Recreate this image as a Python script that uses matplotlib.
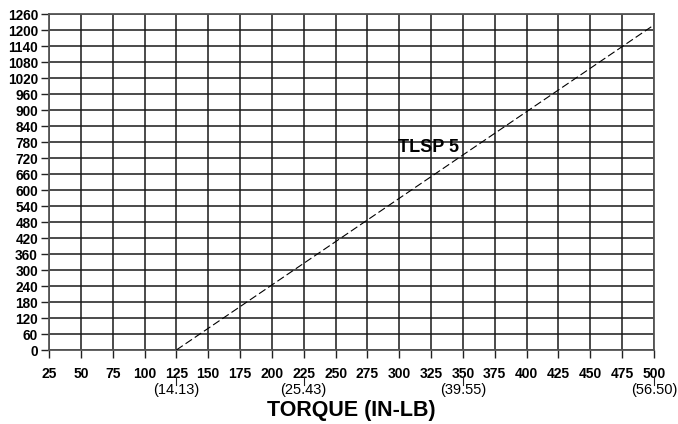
import matplotlib
matplotlib.use('Agg')
import matplotlib.pyplot as plt
import numpy as np

# data
torque_ticks = list(range(25, 501, 25))
rpm_ticks = list(range(0, 1261, 60))
nm_labels = ["(14.13)", "(25.43)", "(39.55)", "(56.50)"]
nm_pos = [125, 225, 350, 500]
line_torque = [125, 500]
line_rpm = [0, 1219]

plt.rcParams['font.family'] = ['Liberation Sans', 'DejaVu Sans']

fig = plt.figure(figsize=(6.78, 4.24), dpi=100, facecolor='white')
ax = fig.add_axes([49 / 678, 74 / 424, 605 / 678, 336 / 424])
ax.set_xlim(25, 500)
ax.set_ylim(0, 1260)

ax.set_xticks(torque_ticks)
ax.set_yticks(rpm_ticks)
ax.set_xticklabels([str(t) for t in torque_ticks], fontsize=10, fontweight='bold')
ax.set_yticklabels([str(r) for r in rpm_ticks], fontsize=9.8, fontweight='bold')
ax.tick_params(axis='both', length=6, width=1, color='#222222')
ax.tick_params(axis='x', pad=6)
ax.tick_params(axis='y', pad=2)
ax.grid(True, color='#1a1a1a', linewidth=1.1)
for s in ax.spines.values():
    s.set_color('#555555')
    s.set_linewidth(1.3)

ax.plot(line_torque, line_rpm, color='black', linewidth=0.8,
        dashes=(7, 3), zorder=5)

ax.text(323, 760, "TLSP 5", fontsize=13, fontweight='bold',
        ha='center', va='center', zorder=6)

# secondary (N-m) labels under the torque ticks
trans = ax.get_xaxis_transform()
for x, lab in zip(nm_pos, nm_labels):
    ax.text(x, -0.118, lab, transform=trans, fontsize=10.5,
            ha='center', va='center', clip_on=False)
    ax.plot([x, x], [-0.08, -0.105], transform=trans, color='#222222',
            linewidth=0.8, clip_on=False)

ax.set_xlabel("TORQUE (IN-LB)", fontsize=15.5, fontweight='bold', labelpad=14)

fig.savefig("out.png", dpi=100, facecolor='white')
